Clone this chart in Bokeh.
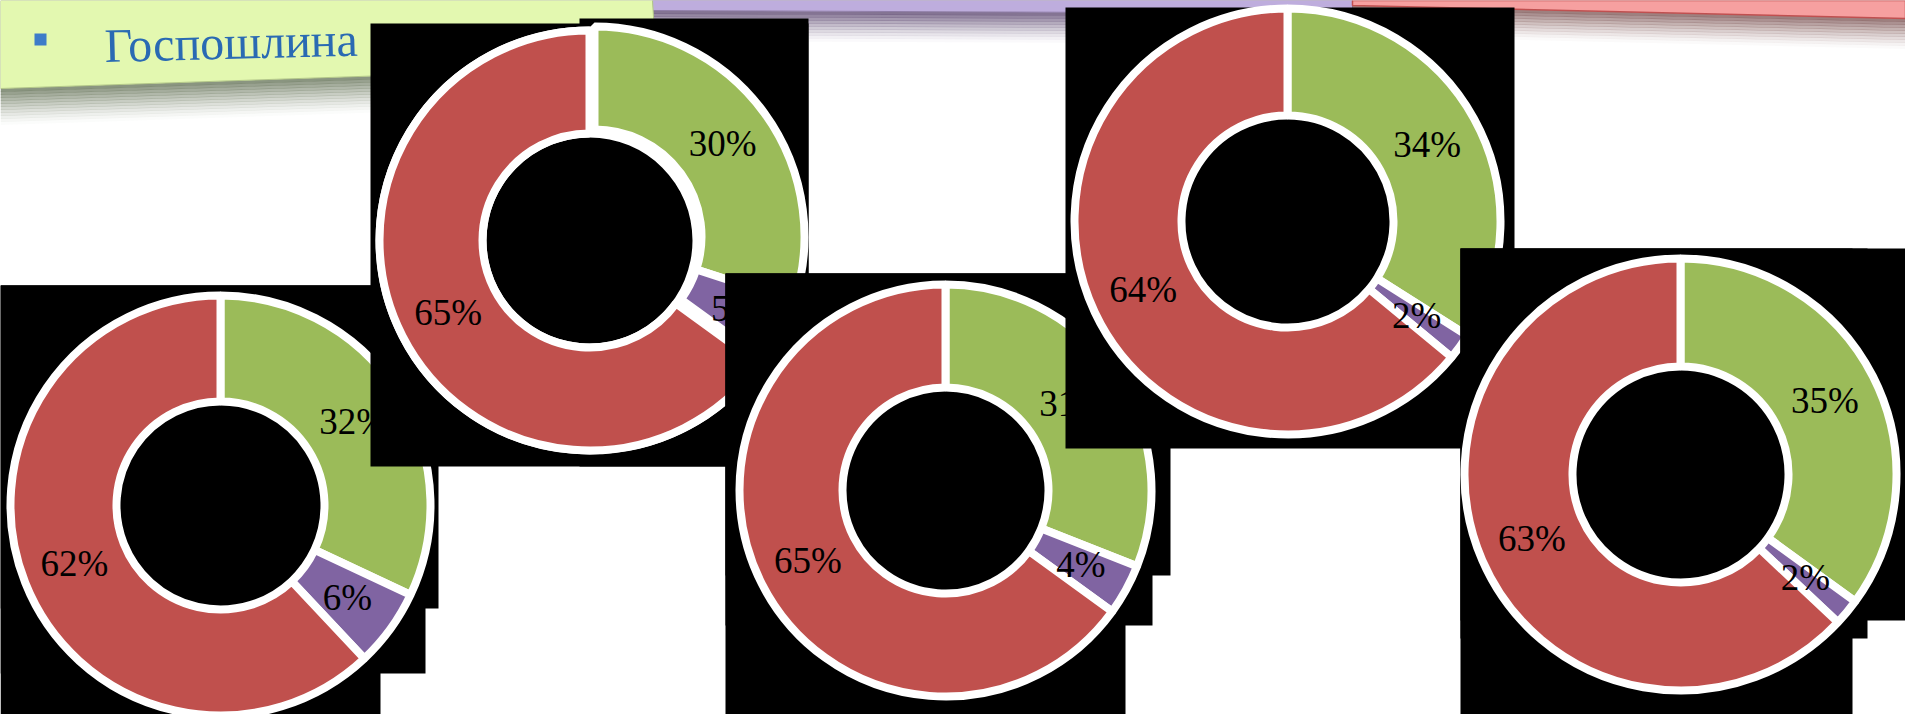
import math
from bokeh.plotting import figure
from bokeh.models import Range1d, ColumnDataSource
from bokeh.core.properties import value
from bokeh.embed import file_html
from bokeh.resources import INLINE

# ---------------- data (five donut charts, drawn back to front) ----------------
green_share = [32, 30, 31, 34, 35]
purple_share = [6, 5, 4, 2, 2]
red_share = [62, 65, 65, 64, 63]
legend_text = "Госпошлина"

series_colors = ["#9BBB59", "#8064A2", "#C0504D"]

# ---------------- page geometry ----------------
W, H = 1905, 714


def Y(sy):
    """screen y (px from top) -> data y"""
    return H - sy


layout = [
    dict(cx=220, cy=505, ro=210, ri=104, explode=(0, 0),
         boxes=[(0, 438, 285, 608), (0, 425, 285, 673), (0, 380, 285, 714)]),
    dict(cx=589, cy=240, ro=210, ri=107, explode=(5, -4),
         boxes=[(370, 808, 23, 466), (579, 808, 18, 466)]),
    dict(cx=945, cy=490, ro=206, ri=103, explode=(0, 0),
         boxes=[(725, 1170, 273, 575), (725, 1152, 273, 625), (725, 1125, 273, 714)]),
    dict(cx=1287, cy=221, ro=213, ri=106, explode=(0, 0),
         boxes=[(1065, 1514, 7, 448)]),
    dict(cx=1680, cy=474, ro=216, ri=108, explode=(0, 0),
         boxes=[(1460, 1905, 248, 620), (1460, 1867, 248, 638), (1460, 1852, 248, 714)]),
]

p = figure(width=W, height=H,
           x_range=Range1d(0, W), y_range=Range1d(0, H),
           output_backend="svg", toolbar_location=None,
           x_axis_location=None, y_axis_location=None,
           min_border=0, background_fill_color="white",
           border_fill_color="white", outline_line_color=None)
p.grid.visible = False


def shadow(x0, x1, yb0, yb1, color, n, step, a0):
    xs, ys, al = [], [], []
    for k in range(n):
        xs.append([x0, x1, x1, x0])
        ys.append([Y(yb0 + k * step), Y(yb1 + k * step),
                   Y(yb1 + (k + 1) * step + 0.5), Y(yb0 + (k + 1) * step + 0.5)])
        al.append(a0 * (1 - k / n) ** 1.4)
    p.patches(xs=xs, ys=ys, fill_color=color, fill_alpha=al, line_color=None)


# ---------------- slide decorations at the top ----------------
# purple panel
shadow(652, 1352, 10, 13, "#6E5C80", 10, 3, 0.85)
p.patch(x=[652, 1352, 1352, 652], y=[Y(0), Y(0), Y(13), Y(10)],
        fill_color="#BEADDD", line_color="#8E7CA6", line_width=1)
# red panel
shadow(1352, 1905, 5, 18, "#86605F", 10, 3, 0.8)
p.patch(x=[1352, 1905, 1905, 1352], y=[Y(0), Y(0), Y(18), Y(5)],
        fill_color="#F6A0A0", line_color="#C05050", line_width=1.5)
# legend panel
shadow(0, 658, 88, 66, "#76826A", 12, 3, 0.85)
p.patch(x=[0, 652, 656, 0], y=[Y(0), Y(0), Y(66), Y(88)],
        fill_color="#E3F8B0", line_color="#B3C788", line_width=1)
p.quad(left=[34], right=[46], top=[Y(33)], bottom=[Y(45)],
       fill_color="#3D7CC9", line_color=None)
p.text(x=[104], y=[Y(45)], text=[legend_text],
       text_font=value("Liberation Serif"), text_font_size="48px",
       text_color="#2A6AB3", text_baseline="alphabetic", text_align="left",
       angle=0.025)

# ---------------- donut charts ----------------
for i, lay in enumerate(layout):
    vals = [green_share[i], purple_share[i], red_share[i]]
    total = float(sum(vals))

    bl, br, bt, bb = zip(*lay["boxes"])
    p.quad(left=list(bl), right=list(br),
           top=[Y(t) for t in bt], bottom=[Y(b) for b in bb],
           fill_color="black", line_color=None)

    cx, cy = lay["cx"], Y(lay["cy"])
    ro, ri = lay["ro"], lay["ri"]
    ex, ey = lay["explode"]
    if ex or ey:
        p.annulus(x=[cx], y=[cy], inner_radius=ri - 4, outer_radius=ro + 4,
                  fill_color="white", line_color=None)

    xs, ys, st, en, cols, lx, ly, lt = [], [], [], [], [], [], [], []
    cum = 0.0
    rm = (ro + ri) / 2.0
    for k, v in enumerate(vals):
        f0 = cum / total
        f1 = (cum + v) / total
        cum += v
        dx, dy = (ex, -ey) if k < 2 else (0, 0)
        xs.append(cx + dx)
        ys.append(cy + dy)
        st.append(math.pi / 2 - 2 * math.pi * f0)
        en.append(math.pi / 2 - 2 * math.pi * f1)
        cols.append(series_colors[k])
        mid = math.pi * (f0 + f1)
        lx.append(cx + dx + rm * math.sin(mid))
        ly.append(cy + dy + rm * math.cos(mid))
        lt.append(f"{v}%")

    src = ColumnDataSource(dict(x=xs, y=ys, start=st, end=en, color=cols))
    p.annular_wedge(x="x", y="y", inner_radius=ri, outer_radius=ro,
                    start_angle="start", end_angle="end", direction="clock",
                    fill_color="color", line_color="white", line_width=8,
                    source=src)
    p.text(x=lx, y=ly, text=lt, text_font=value("Liberation Serif"),
           text_font_size="37px", text_color="black",
           text_align="center", text_baseline="middle")

open("out.html", "w").write(file_html(p, INLINE))
